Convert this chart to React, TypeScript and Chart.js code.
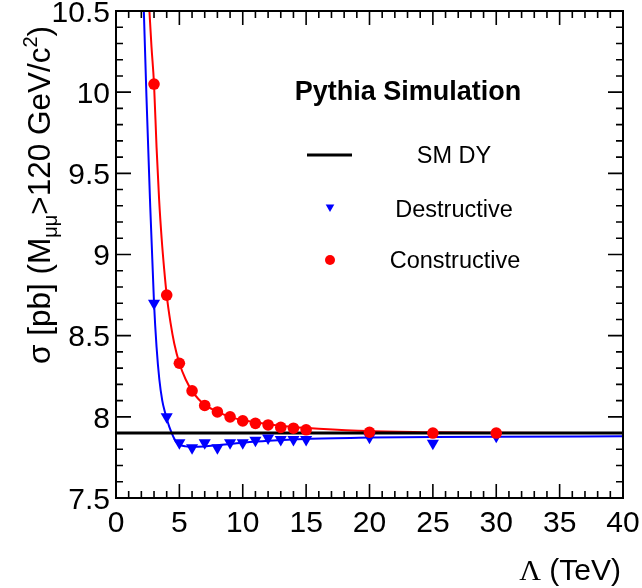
import React, { useEffect, useRef } from 'react';
import { Chart, registerables } from 'chart.js';

Chart.register(...registerables);

// ---- data ----
const LAMBDA_POINTS = [3, 4, 5, 6, 7, 8, 9, 10, 11, 12, 13, 14, 15, 20, 25, 30];
const CONSTRUCTIVE = [10.05, 8.75, 8.33, 8.16, 8.07, 8.03, 8.0, 7.975, 7.96, 7.95, 7.935, 7.93, 7.92, 7.905, 7.9, 7.9];
const DESTRUCTIVE = [8.7, 8.0, 7.84, 7.81, 7.84, 7.81, 7.84, 7.84, 7.855, 7.87, 7.86, 7.86, 7.86, 7.874, 7.837, 7.88];

const CONSTRUCTIVE_FIT_X = [2.55, 2.8, 3, 3.2, 3.4, 3.6, 3.8, 4, 4.3, 4.6, 5, 5.5, 6, 6.5, 7, 8, 9, 10, 12, 14, 16, 20, 25, 30, 40];
const CONSTRUCTIVE_FIT_Y = [10.62, 10.28, 10.05, 9.66, 9.34, 9.1, 8.91, 8.75, 8.58, 8.45, 8.33, 8.23, 8.16, 8.11, 8.075, 8.03, 8.0, 7.98, 7.955, 7.938, 7.927, 7.912, 7.905, 7.902, 7.9];

const DESTRUCTIVE_FIT_X = [2.15, 2.4, 2.68, 3, 3.2, 3.42, 3.65, 3.86, 4, 4.2, 4.4, 4.6, 4.8, 5.1, 5.5, 6, 7, 8, 10, 12, 15, 20, 25, 30, 40];
const DESTRUCTIVE_FIT_Y = [10.62, 9.98, 9.34, 8.7, 8.43, 8.23, 8.1, 8.03, 7.99, 7.94, 7.9, 7.865, 7.84, 7.825, 7.818, 7.815, 7.818, 7.825, 7.84, 7.852, 7.864, 7.872, 7.876, 7.878, 7.88];

const SM_DY = 7.9;

const X_MIN = 0;
const X_MAX = 40;
const Y_MIN = 7.5;
const Y_MAX = 10.5;
const X_TICK_LABELS = ['0', '5', '10', '15', '20', '25', '30', '35', '40'];
const Y_TICK_LABELS = ['7.5', '8', '8.5', '9', '9.5', '10', '10.5'];

const LEGEND_TITLE = 'Pythia Simulation';
const LEGEND_LABELS = ['SM DY', 'Destructive', 'Constructive'];

const SANS = '"Liberation Sans", Arial, Helvetica, sans-serif';
const SERIF = '"Liberation Serif", "Times New Roman", Times, serif';

const RED = '#ff0000';
const BLUE = '#0000ff';

function drawDownTriangle(ctx: CanvasRenderingContext2D, cx: number, cy: number, r: number) {
  ctx.beginPath();
  for (let i = 0; i < 3; i++) {
    const a = Math.PI + (i * 2 * Math.PI) / 3;
    const px = cx + Math.sin(a) * r;
    const py = cy - Math.cos(a) * r;
    if (i === 0) ctx.moveTo(px, py);
    else ctx.lineTo(px, py);
  }
  ctx.closePath();
  ctx.fill();
}

const rootFramePlugin = {
  id: 'rootFrame',
  afterDraw(chart: any) {
    const { ctx, chartArea } = chart;
    const { left, right, top, bottom } = chartArea;
    const xs = chart.scales.x;
    const ys = chart.scales.y;
    ctx.save();

    // frame
    ctx.strokeStyle = '#000';
    ctx.lineWidth = 2;
    ctx.strokeRect(left, top, right - left, bottom - top);

    // ticks (inside, on all four sides)
    ctx.lineWidth = 1.6;
    ctx.beginPath();
    for (let i = 0; i <= (X_MAX - X_MIN); i++) {
      const v = X_MIN + i;
      const px = xs.getPixelForValue(v);
      const len = i % 5 === 0 ? 14 : 7;
      ctx.moveTo(px, bottom);
      ctx.lineTo(px, bottom - len);
      ctx.moveTo(px, top);
      ctx.lineTo(px, top + len);
    }
    const nY = Math.round((Y_MAX - Y_MIN) / 0.1);
    for (let i = 0; i <= nY; i++) {
      const v = Y_MIN + i * 0.1;
      const py = ys.getPixelForValue(v);
      const len = i % 5 === 0 ? 15 : 7;
      ctx.moveTo(left, py);
      ctx.lineTo(left + len, py);
      ctx.moveTo(right, py);
      ctx.lineTo(right - len, py);
    }
    ctx.stroke();

    // tick labels
    ctx.fillStyle = '#000';
    ctx.font = `30px ${SANS}`;
    ctx.textBaseline = 'alphabetic';
    ctx.textAlign = 'center';
    X_TICK_LABELS.forEach((lab) => {
      const px = xs.getPixelForValue(parseFloat(lab));
      ctx.fillText(lab, px, bottom + 34);
    });
    ctx.textAlign = 'right';
    Y_TICK_LABELS.forEach((lab) => {
      const py = ys.getPixelForValue(parseFloat(lab));
      ctx.fillText(lab, left - 6, py + 10.7);
    });

    // x-axis title: Λ (TeV), right aligned
    ctx.textAlign = 'left';
    const fx = 30;
    ctx.font = `${fx}px ${SANS}`;
    const tevText = ' (TeV)';
    const tevW = ctx.measureText(tevText).width;
    ctx.font = `${fx}px ${SERIF}`;
    const lamW = ctx.measureText('Λ').width;
    const xEnd = 621;
    const xBase = 580;
    ctx.fillText('Λ', xEnd - tevW - lamW, xBase);
    ctx.font = `${fx}px ${SANS}`;
    ctx.fillText(tevText, xEnd - tevW, xBase);

    // y-axis title, rotated
    ctx.save();
    ctx.translate(50, 364);
    ctx.rotate(-Math.PI / 2);
    const fy = 31.5;
    const fs = 20;
    let cx = 0;
    const pieces: [string, number, number][] = [
      ['σ [pb] (M', fy, 0],
      ['μμ', fs, 7],
      ['>120 GeV/c', fy, 0],
      ['2', fs, -13],
      [')', fy, 0],
    ];
    ctx.textAlign = 'left';
    pieces.forEach(([t, size, dy]) => {
      ctx.font = `${size}px ${SANS}`;
      ctx.fillText(t, cx, dy);
      cx += ctx.measureText(t).width;
    });
    ctx.restore();

    // legend block
    ctx.textAlign = 'center';
    ctx.font = `bold 27px ${SANS}`;
    ctx.fillText(LEGEND_TITLE, 408, 100);

    ctx.strokeStyle = '#000';
    ctx.lineWidth = 3;
    ctx.beginPath();
    ctx.moveTo(307, 155);
    ctx.lineTo(352, 155);
    ctx.stroke();

    ctx.fillStyle = BLUE;
    drawDownTriangle(ctx, 330, 207, 5);
    ctx.fillStyle = RED;
    ctx.beginPath();
    ctx.arc(330, 260, 5, 0, Math.PI * 2);
    ctx.fill();

    ctx.fillStyle = '#000';
    ctx.font = `23.5px ${SANS}`;
    ctx.fillText(LEGEND_LABELS[0], 454, 163);
    ctx.fillText(LEGEND_LABELS[1], 454, 217);
    ctx.fillText(LEGEND_LABELS[2], 455, 268);

    ctx.restore();
  },
};

export default function App() {
  const canvasRef = useRef<HTMLCanvasElement | null>(null);

  useEffect(() => {
    const canvas = canvasRef.current;
    if (!canvas) return;

    const zip = (xs: number[], ys: number[]) => xs.map((x, i) => ({ x, y: ys[i] }));

    const chart = new Chart(canvas, {
      type: 'scatter',
      data: {
        datasets: [
          {
            label: 'Constructive',
            data: zip(LAMBDA_POINTS, CONSTRUCTIVE),
            showLine: false,
            pointStyle: 'circle',
            pointRadius: 5.8,
            backgroundColor: RED,
            borderColor: RED,
            borderWidth: 0,
          },
          {
            label: 'Destructive',
            data: zip(LAMBDA_POINTS, DESTRUCTIVE),
            showLine: false,
            pointStyle: 'triangle',
            rotation: 180,
            pointRadius: 7,
            backgroundColor: BLUE,
            borderColor: BLUE,
            borderWidth: 0,
          },
          {
            label: 'SM DY',
            data: [
              { x: X_MIN, y: SM_DY },
              { x: X_MAX, y: SM_DY },
            ],
            showLine: true,
            pointRadius: 0,
            borderColor: '#000',
            borderWidth: 3,
            clip: 0,
          },
          {
            label: 'Constructive fit',
            data: zip(CONSTRUCTIVE_FIT_X, CONSTRUCTIVE_FIT_Y),
            showLine: true,
            pointRadius: 0,
            borderColor: RED,
            borderWidth: 2,
            tension: 0.4,
            cubicInterpolationMode: 'monotone',
            clip: 0,
          },
          {
            label: 'Destructive fit',
            data: zip(DESTRUCTIVE_FIT_X, DESTRUCTIVE_FIT_Y),
            showLine: true,
            pointRadius: 0,
            borderColor: BLUE,
            borderWidth: 2,
            tension: 0.4,
            cubicInterpolationMode: 'monotone',
            clip: 0,
          },
        ] as any,
      },
      options: {
        responsive: false,
        animation: false,
        devicePixelRatio: 1,
        layout: { padding: { left: 116, top: 11, right: 19, bottom: 90 } },
        plugins: {
          legend: { display: false },
          title: { display: false },
          tooltip: { enabled: false },
        },
        events: [],
        scales: {
          x: { type: 'linear', min: X_MIN, max: X_MAX, display: false },
          y: { type: 'linear', min: Y_MIN, max: Y_MAX, display: false },
        },
      },
      plugins: [rootFramePlugin],
    });

    return () => chart.destroy();
  }, []);

  return (
    <div style={{ position: 'absolute', left: 0, top: 0, width: 642, height: 588, background: '#fff' }}>
      <canvas ref={canvasRef} width={642} height={588} style={{ display: 'block' }} />
    </div>
  );
}
